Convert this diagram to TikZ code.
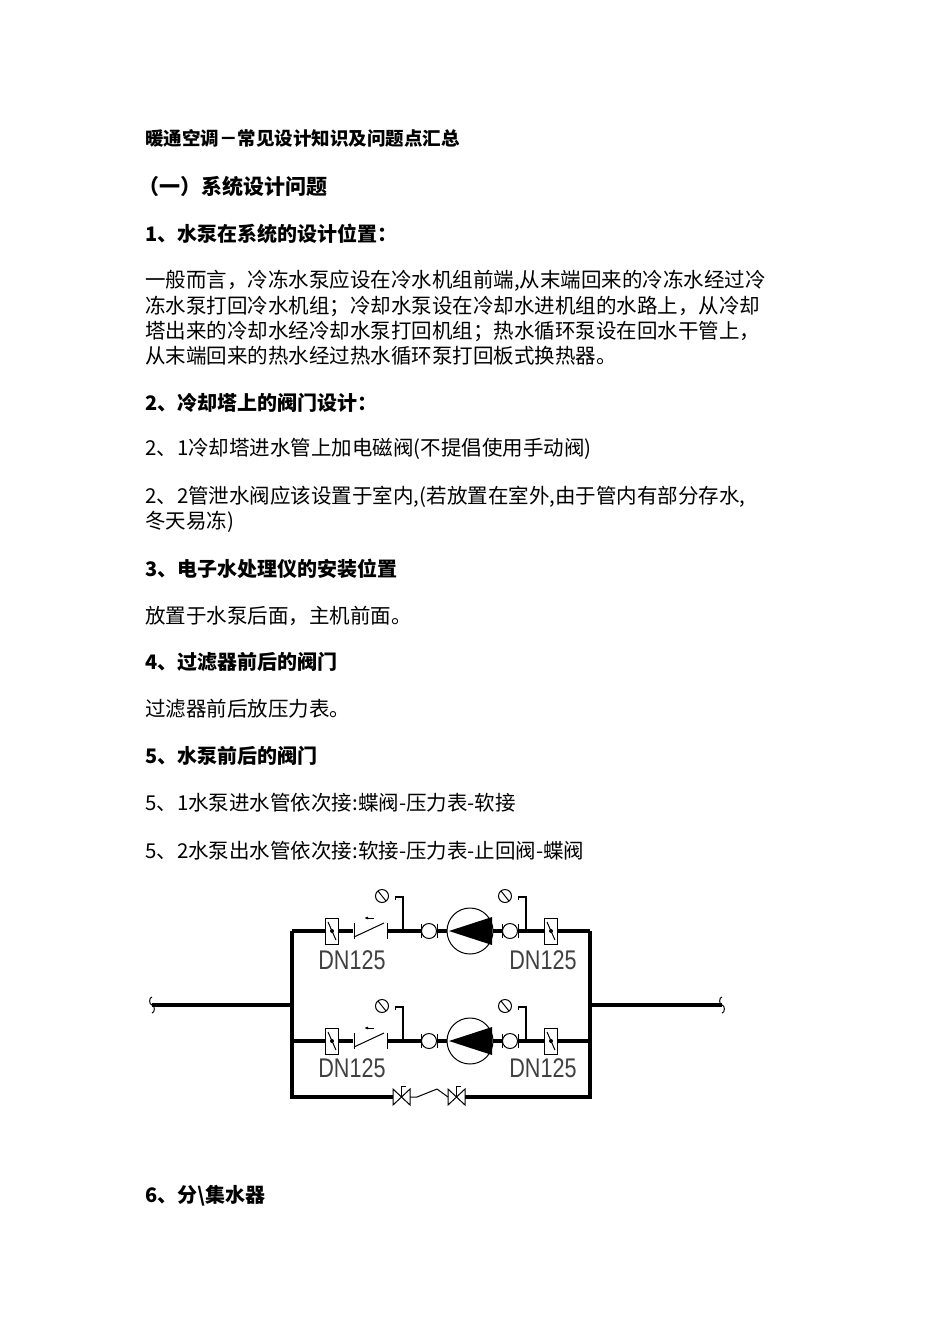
\documentclass[tikz,border=0pt]{standalone}
\usepackage{fontspec}
\usetikzlibrary{arrows.meta}
\setmainfont{Noto Sans CJK SC}
\newfontfamily\dnfont{Liberation Sans}
\begin{document}
\begin{tikzpicture}[x=1pt,y=-1pt,
  body/.style={anchor=west,inner sep=0pt,font=\fontsize{20.5}{22}\selectfont},
  head/.style={anchor=west,inner sep=0pt,font=\fontsize{20}{22}\selectfont\bfseries},
  pipe/.style={line width=3.5pt},
  thin/.style={line width=1pt},
  lbl/.style={inner sep=0pt,xscale=0.8,font=\dnfont\fontsize{27}{28}\selectfont,text=black!75}]
\fill[white] (0,0) rectangle (950,1344);
\node[head,font=\fontsize{18.5}{20}\selectfont\bfseries] (t0) at (145,138) {暖通空调－常见设计知识及问题点汇总};
\node[head,font=\fontsize{21}{22}\selectfont\bfseries] (t1) at (138,186) {（一）系统设计问题};
\node[head] (t2) at (145,234) {1、水泵在系统的设计位置：};
\node[body] (p1) at (145,281) {一般而言，冷冻水泵应设在冷水机组前端,从末端回来的冷冻水经过冷};
\node[body] (p2) at (145,306) {冻水泵打回冷水机组；冷却水泵设在冷却水进机组的水路上，从冷却};
\node[body] (p3) at (145,331) {塔出来的冷却水经冷却水泵打回机组；热水循环泵设在回水干管上，};
\node[body] (p4) at (145,356) {从末端回来的热水经过热水循环泵打回板式换热器。};
\node[head] (t3) at (145,403) {2、冷却塔上的阀门设计：};
\node[body] (p5) at (145,449) {2、1冷却塔进水管上加电磁阀(不提倡使用手动阀)};
\node[body] (p6) at (145,497) {2、2管泄水阀应该设置于室内,(若放置在室外,由于管内有部分存水,};
\node[body] (p7) at (145,522) {冬天易冻)};
\node[head] (t4) at (145,569) {3、电子水处理仪的安装位置};
\node[body] (p8) at (145,616) {放置于水泵后面，主机前面。};
\node[head] (t5) at (145,662) {4、过滤器前后的阀门};
\node[body] (p9) at (145,709) {过滤器前后放压力表。};
\node[head] (t6) at (145,756) {5、水泵前后的阀门};
\node[body] (p10) at (145,803) {5、1水泵进水管依次接:蝶阀-压力表-软接};
\node[body] (p11) at (145,851) {5、2水泵出水管依次接:软接-压力表-止回阀-蝶阀};
\node[head] (t7) at (145,1196) {6、分\textbackslash 集水器};
% main pipes
\draw[pipe] (152,1005) -- (292,1005);
\draw[pipe] (590,1005) -- (722,1005);
\draw[pipe] (292,931) -- (292,1097) -- (393,1097);
\draw[pipe] (590,931) -- (590,1097) -- (465,1097);
\draw[thin] (152,997) to[out=180,in=180] (152,1005) to[out=0,in=0] (152,1013);
\draw[thin] (722,997) to[out=180,in=180] (722,1005) to[out=0,in=0] (722,1013);
% bypass valves
\draw[thin] (393,1089) -- (393,1105) -- (410,1089) -- (410,1105) -- cycle;
\draw[thin] (401,1097) -- (401,1086) -- (406,1086);
\draw[thin] (410,1097) -- (417,1097) -- (437,1089);
\draw[thin] (437,1089) -- (448,1097);
\draw[thin] (448,1089) -- (448,1105) -- (465,1089) -- (465,1105) -- cycle;
\draw[thin] (456,1097) -- (456,1086) -- (461,1086);
\foreach \y in {931,1041}{
  \draw[pipe] (292,\y) -- (326,\y);
  \draw[pipe] (339,\y) -- (353,\y);
  \draw[pipe] (387,\y) -- (421,\y);
  \draw[pipe] (437,\y) -- (447,\y);
  \draw[pipe] (493,\y) -- (502,\y);
  \draw[pipe] (518,\y) -- (544,\y);
  \draw[pipe] (558,\y) -- (590,\y);
  % butterfly valves
  \foreach \vx in {332,551}{
    \draw[thin,fill=white] (\vx-6.5,\y-13) rectangle (\vx+6.5,\y+13);
    \draw[thin] (\vx-4,\y-9) -- (\vx+4,\y+9);
    \fill (\vx,\y) circle (2);
  }
  % check valve
  \draw[thin] (354,\y-8) -- (354,\y+8);
  \draw[thin] (387,\y-8) -- (387,\y+8);
  \draw[thin] (354,\y+6) -- (384,\y-8);
  \draw[thin,-{Latex[length=4pt]}] (374,\y-13) -- (364,\y-13);
  % gauges
  \draw[line width=2.5pt] (403,\y) -- (403,\y-34) -- (395,\y-34);
  \draw[thin] (395,\y-34) -- (395,\y-31);
  \draw[thin] (382,\y-35) circle (6.5);
  \draw[thin] (378,\y-40) -- (386,\y-30);
  \draw[line width=2.5pt] (526,\y) -- (526,\y-34) -- (518,\y-34);
  \draw[thin] (518,\y-34) -- (518,\y-31);
  \draw[thin] (505,\y-35) circle (6.5);
  \draw[thin] (501,\y-40) -- (509,\y-30);
  % flex joints
  \foreach \fx in {429,510}{
    \draw[thin] (\fx,\y) circle (7.5);
    \draw[thin] (\fx-8,\y-7) -- (\fx-8,\y+7);
    \draw[thin] (\fx+8,\y-7) -- (\fx+8,\y+7);
  }
  % pump
  \draw[thin] (470,\y) circle (23);
  \fill (449,\y) -- (492,\y-14) -- (492,\y+14) -- cycle;
}
\node[lbl] (d1) at (352,960) {DN125};
\node[lbl] (d2) at (543,960) {DN125};
\node[lbl] (d3) at (352,1068) {DN125};
\node[lbl] (d4) at (543,1068) {DN125};
\end{tikzpicture}
\end{document}
